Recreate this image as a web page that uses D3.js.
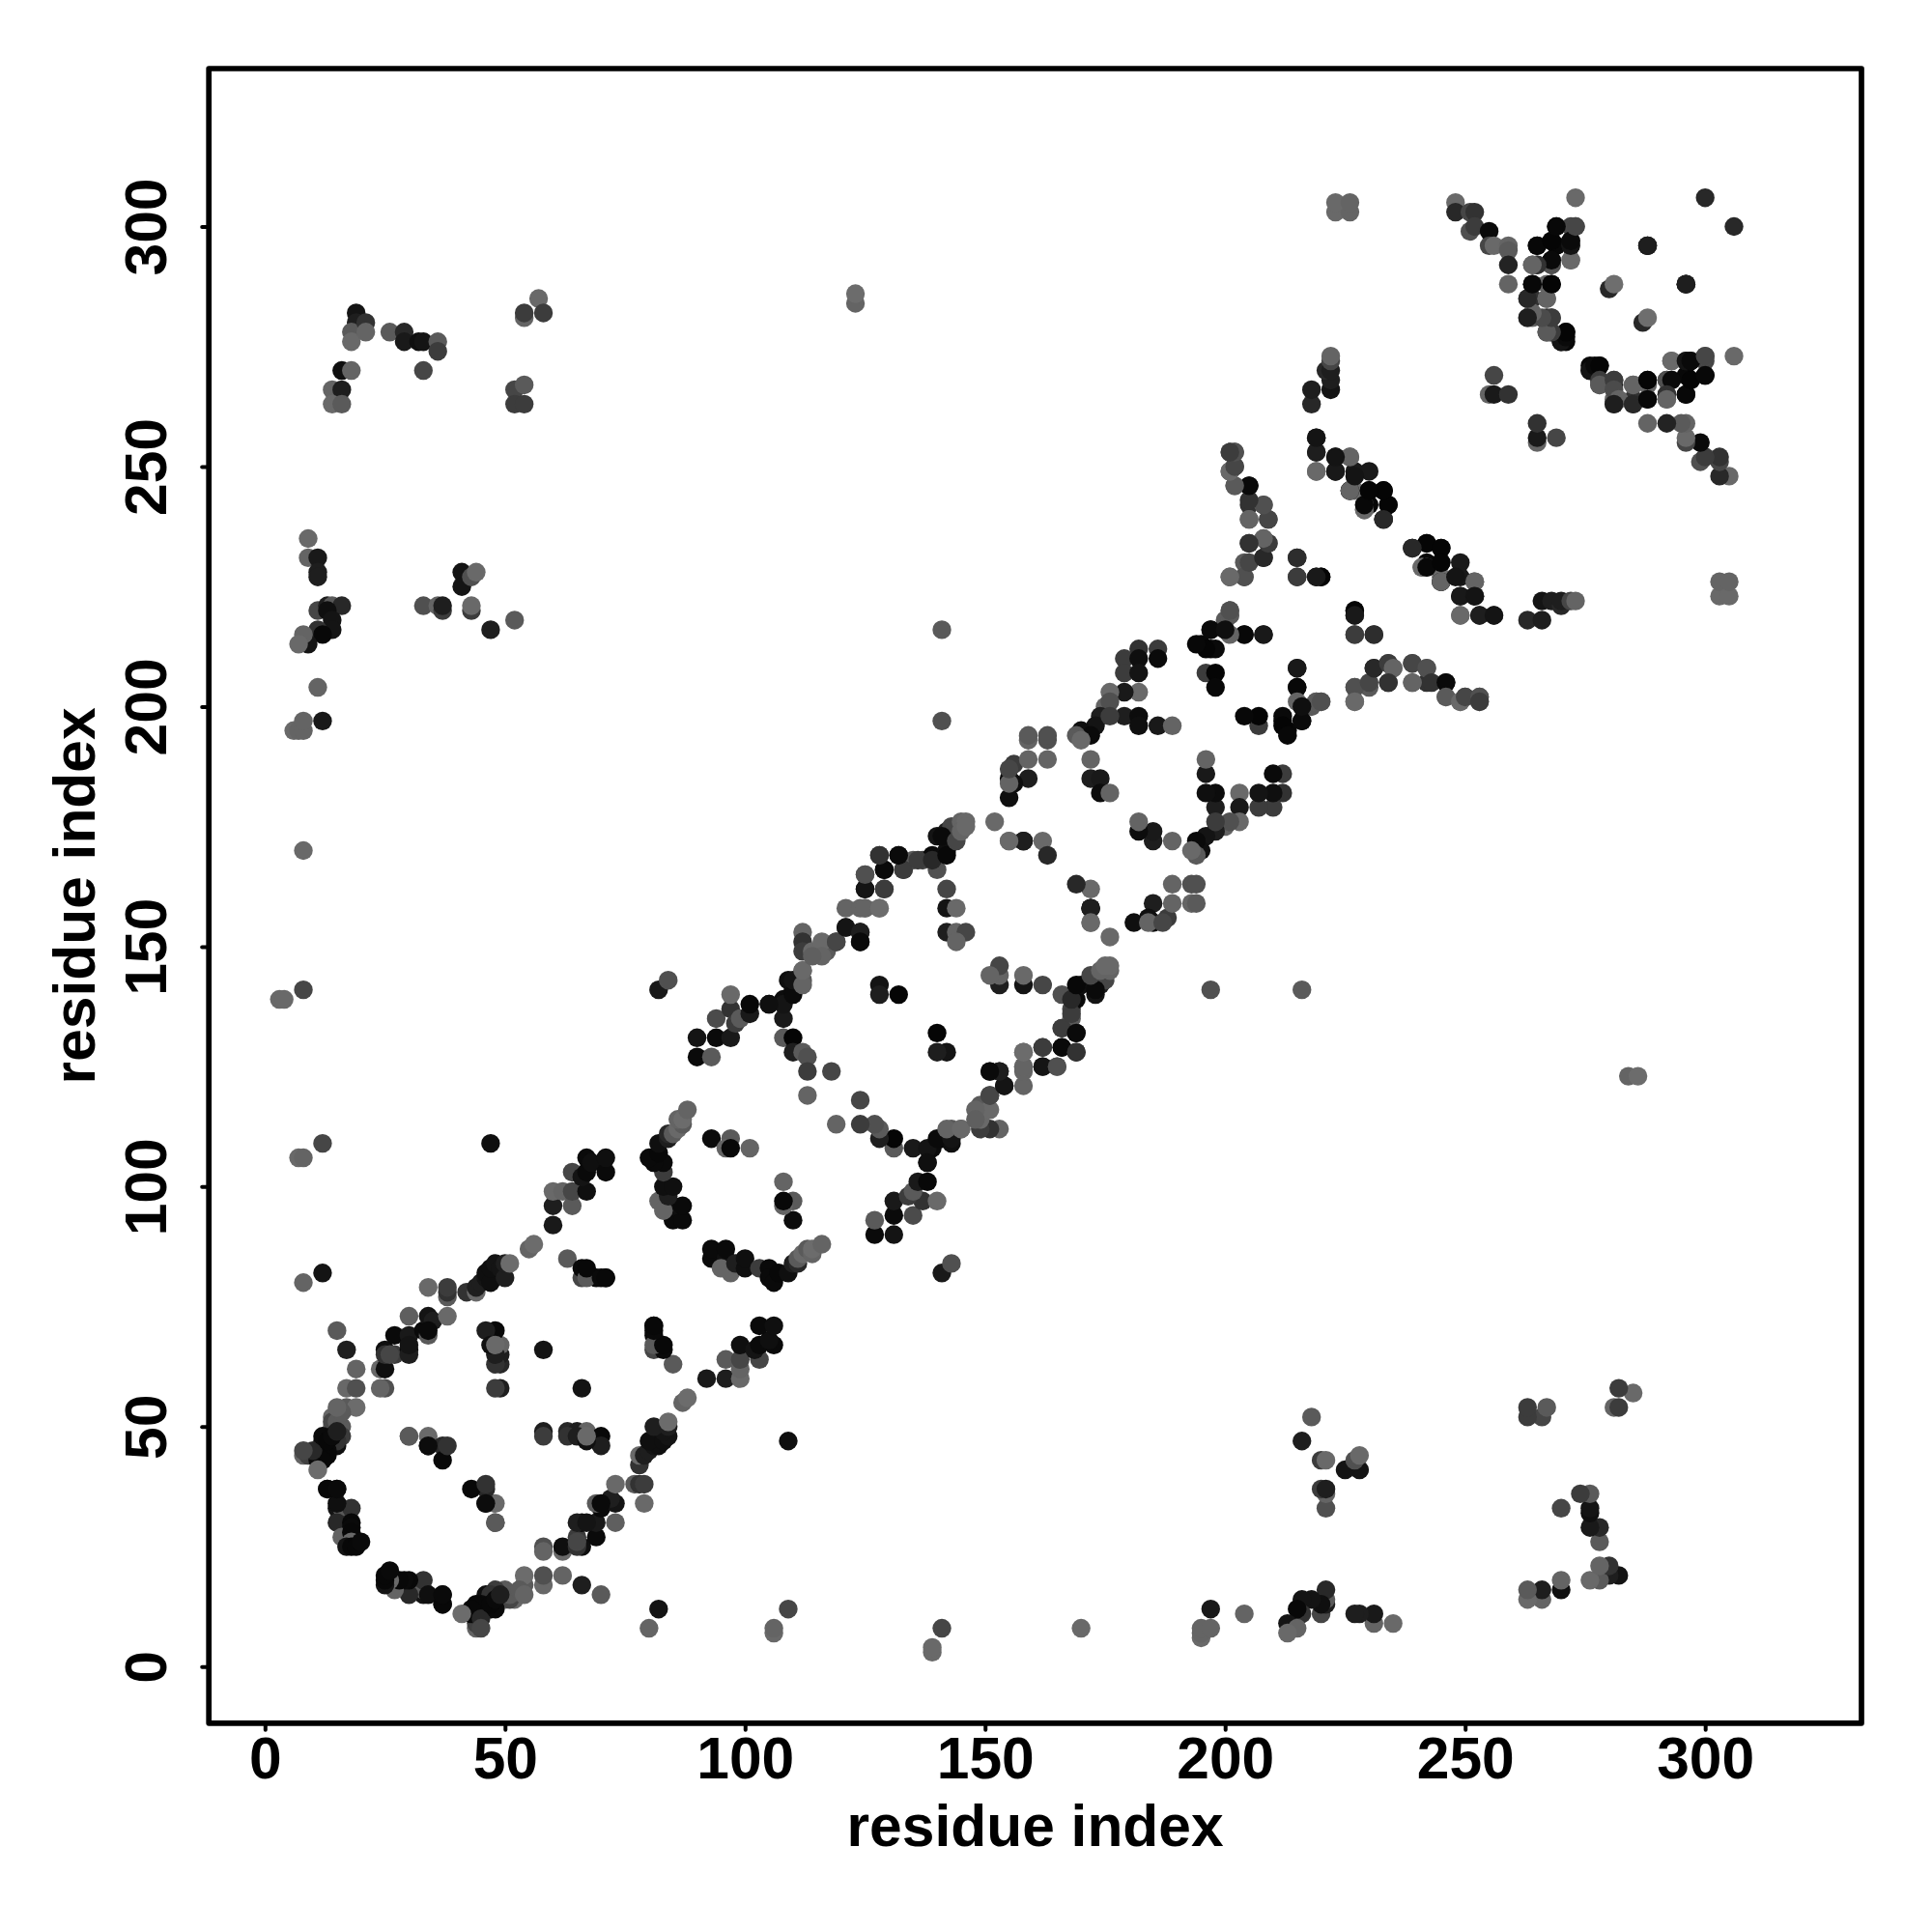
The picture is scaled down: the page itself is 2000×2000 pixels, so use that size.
<!DOCTYPE html>
<html><head><meta charset="utf-8">
<script src="https://cdn.jsdelivr.net/npm/d3@7"></script>
<style>html,body{margin:0;background:#fff}svg{display:block}</style></head>
<body><svg id="c" width="2000" height="2000"></svg>
<script>
// contact rows: [residue i, residue j, grey level]; the map is symmetric, each contact appears at (i,j) and (j,i)
const tickLabels=[0,50,100,150,200,250,300];
const axisTitle="residue index";
const arcLeft=[[15,70,90],[17,66,30],[19,62,100],[17,58,104],[19,58,80],[14,52,104],[15,52,100],[17,54,90],[19,54,108],[16,50,90],[14,50,100],[14,51,70],[15,51,90],[16,48,60],[14,47,20],[12,47,10],[12,46,8],[15,46,15],[15,47,50],[13,45,10],[11,44,15],[8,44,100],[9,44,64],[12,44,10],[13,44,8],[11,43,10],[12,43,8],[11,41,108],[10,45,40],[8,45,70],[12,48,10],[13,47,8],[14,48,10],[15,49,30],[16,53,90],[15,54,100],[13,37,10],[15,37,30],[15,33,20],[16,33,90],[18,33,50],[15,30,40],[18,30,8],[18,29,10],[16,27,100],[18,28,8],[18,26,105],[17,25,20],[18,25,8],[19,25,8],[20,26,10],[15,34,15],[13,37,8],[15,37,10]];
const arcTop=[[25,58,80],[24,58,100],[24,62,105],[25,62,15],[25,66,15],[25,65,50],[27,65,60],[26,65,70],[27,69,10],[30,66,10],[30,65,30],[30,69,25],[30,67,20],[30,73,95],[33,70,10],[34,69,90],[34,73,20],[35,72,30],[34,70,10],[38,73,105],[34,79,105],[38,77,90],[38,78,50],[38,79,60],[42,78,50],[44,78,105],[44,79,30],[45,80,30],[46,81,20],[46,82,15],[47,80,15],[47,83,15],[48,84,20],[49,83,20],[50,81,30],[50,84,30],[51,84,108],[55,87,100],[56,88,108],[63,85,90],[66,81,70],[66,83,10],[69,81,10],[71,81,10]];
const firstInner=[[30,48,95],[34,46,10],[34,48,105],[37,46,40],[37,43,8],[38,46,50],[34,46,12],[30,48,90],[49,58,30],[49,63,40],[48,66,10],[49,65,30],[49,67,100],[48,70,8],[46,70,30],[58,66,20],[48,63,50],[48,58,60],[48,65,30],[47,67,15],[48,67,105]];
const firstRight=[[67,81,90],[67,83,8],[70,81,10],[71,81,8],[60,92,25],[60,96,30],[60,99,105],[62,99,100],[64,96,90],[64,99,70],[67,99,15],[64,103,70],[66,102,20],[67,103,10],[67,106,10],[68,105,15],[71,103,10],[71,106,15]];
const crossBlocksA=[[85,93,10],[87,93,10],[85,96,15],[87,96,10],[82,97,100],[83,95,100],[84,98,30],[83,100,15],[85,100,15],[83,103,60],[83,105,10],[81,105,10],[80,106,10],[82,107,8],[82,109,15],[84,110,30],[84,111,40],[85,111,90],[86,112,105],[87,113,90],[86,114,100],[87,114,108],[88,116,100],[93,110,12],[97,110,90],[96,108,100],[97,108,8],[101,108,100]];
const strandB=[[82,141,25],[84,143,80],[90,127,10],[90,131,20],[93,127,90],[94,131,10],[94,135,75],[97,131,25],[97,137,50],[97,140,105],[98,134,60],[99,135,90],[101,136,25],[101,138,8]];
const armUpper=[[105,138,10],[108,139,12],[108,135,25],[110,141,10],[109,143,15],[112,143,90],[112,145,100],[108,131,90],[110,131,5],[110,128,30],[112,128,90],[113,127,80],[113,124,60],[118,124,70],[113,119,100],[112,153,100],[112,151,50],[112,149,60],[114,149,105],[117,149,90],[116,151,105],[119,151,70],[121,154,40],[124,151,40],[124,153,15],[121,158,100],[124,158,100],[125,158,105],[128,158,108],[125,162,50],[129,162,90],[125,165,100],[129,166,15],[133,166,60],[128,169,60],[132,169,15],[135,168,90],[137,168,70],[139,169,10],[142,170,15],[140,173,20],[140,166,80],[142,162,70],[142,158,20],[144,158,105],[142,153,30],[144,153,100],[146,153,70],[144,151,100],[142,174,30],[144,174,80],[143,175,70],[145,176,100],[146,176,105]];
const armLower=[[108,138,20],[105,138,15],[110,140,10],[110,143,20],[112,142,100],[112,145,105],[116,148,100],[114,148,95],[119,151,70],[121,154,20],[124,153,30],[124,151,10],[125,158,100],[128,158,108],[125,162,20],[129,162,60],[125,165,80],[129,166,10],[133,166,60],[128,169,50],[132,169,10],[136,168,60],[139,168,40],[142,169,8],[141,173,10],[144,172,70],[145,174,100],[146,175,105]];
const ringB=[[128,142,20],[128,140,30],[132,140,5],[152,176,105],[155,172,105],[158,172,25],[162,172,105],[163,169,40],[158,172,30],[172,158,30],[172,155,105],[172,189,100],[172,185,30],[174,185,25],[174,182,12],[176,182,100],[181,155,15],[185,155,10],[185,159,30],[184,156,15],[188,156,60],[189,159,100],[189,163,100],[155,184,100],[155,187,70],[159,193,100],[163,193,80],[159,194,90],[163,194,80]];
const strandC=[[182,212,50],[186,212,60],[186,210,10],[179,210,60],[182,210,15],[179,207,60],[182,207,20],[182,203,105],[179,203,25],[176,203,105],[175,200,100],[176,201,80],[179,198,30],[182,198,12],[182,196,15],[186,196,25],[189,196,100],[174,198,30],[173,196,20],[176,198,60],[170,195,15],[172,194,10],[169,194,90],[170,193,105]];
const strandD=[[195,213,8],[197,212,8],[197,216,10],[200,216,105],[200,218,90],[201,220,100],[201,219,105],[204,215,5],[208,215,25],[196,207,60],[198,207,5],[198,204,8],[212,198,10],[212,196,5],[213,194,8],[216,197,10],[215,208,25],[215,204,8],[215,201,100],[219,201,90],[220,201,80],[216,200,15]];
const strandE=[[201,253,100],[202,253,80],[201,249,100],[202,250,75],[202,246,100],[205,246,8],[205,242,50],[205,239,105],[208,242,100],[209,239,70],[205,234,45],[208,235,105],[209,234,60],[208,231,40],[204,230,90],[204,227,80],[201,227,105],[215,231,40],[215,227,60],[219,227,30],[220,227,8],[227,220,5],[227,219,25],[227,215,60],[231,215,45],[227,204,80],[227,201,105],[230,205,70],[231,208,40],[234,209,60],[235,208,100],[234,205,50],[239,209,70],[242,208,80],[239,205,100],[243,205,50],[246,205,10],[246,202,90],[249,201,105],[250,202,70],[253,202,80],[253,201,60]];
const antiF=[[219,256,30],[219,253,40],[219,249,108],[223,252,25],[226,252,100],[223,249,25],[227,249,25],[230,249,25],[226,245,10],[227,245,108],[230,245,8],[233,245,8],[230,242,8],[234,242,8],[229,241,100],[233,239,35],[233,239,40],[226,245,15],[229,242,100],[234,242,5],[233,245,5],[218,263,40],[218,266,30],[222,266,20],[222,268,30],[221,270,40],[222,270,30],[222,272,70],[222,273,100]];
const crossG=[[239,233,40],[229,241,105],[229,242,8],[230,245,5],[226,245,100],[227,248,20],[226,252,100],[223,249,25],[223,252,20],[219,249,105],[219,253,30],[219,256,20]];
const armH=[[248,305,105],[248,303,40],[251,303,70],[252,303,50],[251,299,80],[252,300,60],[255,299,10],[255,296,70],[256,296,105],[259,296,100],[259,295,90],[259,292,35],[259,288,100]];
const crossH=[[269,300,12],[272,300,70],[273,300,90],[265,296,10],[268,297,90],[269,296,8],[272,297,15],[272,296,25],[268,293,8],[272,293,105],[264,292,105],[265,292,60],[268,292,60],[264,288,8],[267,288,100],[268,288,5],[264,285,50],[263,285,60],[267,285,105],[263,281,90],[264,281,100],[267,281,20],[268,281,80],[267,278,60],[268,278,100],[271,278,8],[270,276,20],[271,276,8],[276,270,20],[271,277,10],[271,278,5],[268,278,60],[267,278,90],[268,281,60],[266,281,75],[264,282,100],[263,281,30],[267,285,100],[263,285,40],[268,288,5],[264,288,8],[268,292,80],[268,293,10],[265,292,50],[264,292,100],[265,296,8],[268,297,5],[272,293,105],[272,296,20],[272,297,10],[273,300,70],[269,300,8],[273,306,105]];
const farH=[[288,296,30],[300,306,40],[280,287,40],[281,288,110],[296,288,30],[288,296,30],[256,269,70],[255,265,100],[256,265,25],[259,265,50],[223,303,105],[226,303,100],[223,305,105],[226,305,100],[123,284,100],[123,286,108]];
const farTopLeft=[[19,282,20],[19,280,30],[18,278,90],[18,276,105],[21,280,50],[21,278,100],[26,278,90],[29,278,40],[29,276,25],[32,276,15],[33,276,20],[36,276,90],[36,274,60],[33,270,70],[16,270,15],[18,270,100],[14,266,100],[16,266,30],[14,263,105],[16,263,90],[57,285,105],[54,281,100],[54,282,60],[58,282,60],[52,266,70],[54,267,90],[52,263,60],[54,263,60]];
const farMidLeft=[[9,235,105],[9,231,100],[11,231,25],[11,228,30],[11,227,30],[11,220,70],[13,221,30],[14,221,90],[16,221,40],[13,220,15],[14,218,20],[14,216,20],[11,216,50],[12,215,8],[9,213,20],[8,215,100],[7,213,105],[33,221,80],[36,221,100],[37,220,60],[37,221,30],[41,228,20],[41,225,20],[43,227,80],[44,228,105],[43,220,60],[43,221,105],[52,218,90],[47,216,30],[11,204,100],[6,195,105],[7,195,100],[8,195,100],[8,197,100],[12,197,25],[8,170,105],[3,139,105],[4,139,105],[8,141,70],[141,216,90],[141,197,80],[7,106,105],[8,106,100],[12,109,70],[47,109,15],[8,80,100],[12,82,20]];

const allRows=[arcLeft,arcTop,firstInner,firstRight,crossBlocksA,strandB,armUpper,armLower,ringB,strandC,strandD,strandE,antiF,crossG,armH,crossH,farH,farTopLeft,farMidLeft];
const frame={l:216.2,r:1927,t:71,b:1783.8};
const x=d3.scaleLinear().domain([-11.69,332.56]).range([frame.l,frame.r]);
const y=d3.scaleLinear().domain([-11.77,332.9]).range([frame.b,frame.t]);
const svg=d3.select("#c");
const font="'Liberation Sans',Arial,sans-serif";
const fontPx=60.5;
const pts=[];
allRows.forEach(rows=>rows.forEach(([i,j,g])=>{pts.push({a:i,b:j,g});pts.push({a:j,b:i,g});}));
svg.append("g").selectAll("circle").data(pts).join("circle")
  .attr("cx",d=>x(d.a)).attr("cy",d=>y(d.b)).attr("r",9.7)
  .attr("fill",d=>d3.rgb(d.g,d.g,d.g));
svg.append("rect").attr("x",frame.l).attr("y",frame.t).attr("width",frame.r-frame.l).attr("height",frame.b-frame.t)
  .attr("fill","none").attr("stroke","#000").attr("stroke-width",5.7).attr("stroke-linejoin","round");
const ax=svg.append("g").attr("transform",`translate(0,${frame.b})`).call(d3.axisBottom(x).tickValues(tickLabels).tickSize(7));
const ay=svg.append("g").attr("transform",`translate(${frame.l},0)`).call(d3.axisLeft(y).tickValues(tickLabels).tickSize(7));
[ax,ay].forEach(g=>{g.select(".domain").remove();
  g.selectAll("line").attr("stroke","#000").attr("stroke-width",4).attr("stroke-linecap","round");
  g.selectAll("text").attr("fill","#000").style("font",`bold ${fontPx}px ${font}`);});
ax.selectAll("text").attr("y",57).attr("dy",0);
ay.selectAll("text").attr("x",0).attr("dy",0).attr("text-anchor","middle")
  .attr("transform","translate(-44.2,0) rotate(-90)");
// rotate around each tick's own origin
svg.append("text").attr("x",(frame.l+frame.r)/2).attr("y",1911).attr("text-anchor","middle")
  .style("font",`bold ${fontPx}px ${font}`).text(axisTitle);
svg.append("text").attr("transform",`translate(98,${(frame.t+frame.b)/2}) rotate(-90)`).attr("text-anchor","middle")
  .style("font",`bold ${fontPx}px ${font}`).text(axisTitle);
</script></body></html>
